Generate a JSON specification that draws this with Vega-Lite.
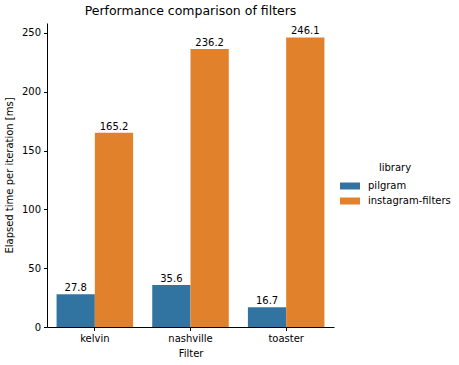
{
  "$schema": "https://vega.github.io/schema/vega-lite/v6.json",
  "width": 287,
  "height": 304,
  "autosize": "none",
  "padding": {"left": 47, "top": 23, "right": 125, "bottom": 38},
  "background": "white",
  "title": {"text": "Performance comparison of filters", "fontSize": 12.5, "fontWeight": "normal", "font": "DejaVu Sans", "color": "#000", "offset": 6, "anchor": "middle"},
  "config": {
    "view": {"stroke": null},
    "font": "DejaVu Sans",
    "axis": {"labelFont": "DejaVu Sans", "titleFont": "DejaVu Sans", "labelFontSize": 10, "titleFontSize": 10, "titleFontWeight": "normal", "labelColor": "#000", "titleColor": "#000", "domainColor": "#000", "tickColor": "#000", "grid": false, "tickSize": 3.5}
  },
  "data": {"values": [
    {"filter": "kelvin", "library": "pilgram", "time": 27.8},
    {"filter": "kelvin", "library": "instagram-filters", "time": 165.2},
    {"filter": "nashville", "library": "pilgram", "time": 35.6},
    {"filter": "nashville", "library": "instagram-filters", "time": 236.2},
    {"filter": "toaster", "library": "pilgram", "time": 16.7},
    {"filter": "toaster", "library": "instagram-filters", "time": 246.1}
  ]},
  "encoding": {
    "x": {"field": "filter", "type": "nominal", "title": "Filter", "sort": ["kelvin", "nashville", "toaster"],
      "scale": {"paddingInner": 0.2, "paddingOuter": 0.1},
      "axis": {"labelAngle": 0, "labelPadding": 3, "titlePadding": 5}},
    "xOffset": {"field": "library", "type": "nominal", "sort": ["pilgram", "instagram-filters"], "scale": {"paddingInner": 0, "paddingOuter": 0}},
    "y": {"field": "time", "type": "quantitative", "title": "Elapsed time per iteration [ms]",
      "scale": {"domain": [0, 258.4], "nice": false},
      "axis": {"values": [0, 50, 100, 150, 200, 250], "labelPadding": 3, "titlePadding": 7}}
  },
  "layer": [
    {"mark": {"type": "bar"},
      "encoding": {"color": {"field": "library", "type": "nominal", "sort": ["pilgram", "instagram-filters"],
        "scale": {"domain": ["pilgram", "instagram-filters"], "range": ["#3274a1", "#e1812c"]},
        "legend": {"orient": "none", "legendX": 293, "legendY": 140, "title": "library", "titleFontWeight": "normal", "titleFontSize": 10, "labelFontSize": 10, "titleAnchor": "middle", "symbolType": "M-1,-0.35H1V0.35H-1Z", "symbolSize": 400, "symbolStrokeWidth": 0, "labelOffset": 8, "labelColor": "#000", "titleColor": "#000", "titlePadding": 3, "rowPadding": 0}}}},
    {"mark": {"type": "text", "baseline": "bottom", "dy": -1, "fontSize": 10, "color": "#000"},
      "encoding": {"text": {"field": "time", "type": "quantitative", "format": ".1f"}}}
  ]
}
